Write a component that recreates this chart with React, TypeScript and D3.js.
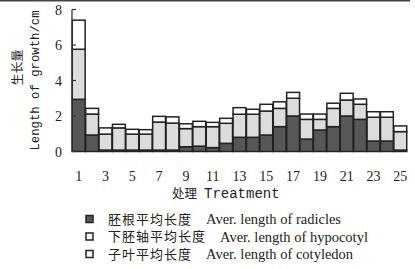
import React from "react";
import * as d3 from "d3";

// treatments 1..25
const treatments = d3.range(1, 26).map(String);
const xTickLabels = ["1", "3", "5", "7", "9", "11", "13", "15", "17", "19", "21", "23", "25"];
const yTicks = [0, 2, 4, 6, 8];

// average lengths (cm)
const radicle = [2.94, 0.93, 0.08, 0.08, 0.08, 0.08, 0.08, 0.08, 0.27, 0.3, 0.22, 0.46, 0.8, 0.8, 0.93, 1.4, 2.0, 0.7, 1.21, 1.4, 2.0, 1.81, 0.59, 0.59, 0.08];
const hypocotyl = [2.82, 1.18, 0.9, 1.25, 0.9, 0.9, 1.58, 1.52, 1.02, 1.1, 1.18, 1.13, 1.3, 1.3, 1.35, 1.03, 1.0, 1.11, 0.6, 1.03, 0.9, 0.85, 1.34, 1.34, 1.04];
const cotyledon = [1.64, 0.32, 0.35, 0.2, 0.27, 0.25, 0.32, 0.35, 0.27, 0.3, 0.24, 0.28, 0.37, 0.28, 0.38, 0.37, 0.33, 0.3, 0.3, 0.29, 0.38, 0.3, 0.31, 0.31, 0.32];

const seriesKeys = ["radicle", "hypocotyl", "cotyledon"];
const fills = { radicle: "#575757", hypocotyl: "#dcdcdc", cotyledon: "#ffffff" };
const legendCn = ["胚根平均长度", "下胚轴平均长度", "子叶平均长度"];
const legendEn = ["Aver. length of radicles", "Aver. length of hypocotyl", "Aver. length of cotyledon"];

const W = 415, H = 269;
const margin = { left: 72, right: 8, top: 9.5, bottom: 117.5 };

export default function App() {
  const rows = treatments.map((t, i) => ({
    t,
    radicle: radicle[i],
    hypocotyl: hypocotyl[i],
    cotyledon: cotyledon[i],
  }));
  const stacked = d3.stack().keys(seriesKeys)(rows as any);

  const x = d3.scaleBand().domain(treatments).range([margin.left, W - margin.right]).paddingInner(0.04).paddingOuter(0.02);
  const y = d3.scaleLinear().domain([0, 8]).range([H - margin.bottom, margin.top]);

  const serif = "'Liberation Serif', 'DejaVu Serif', serif";
  const mono = "'Liberation Mono', 'DejaVu Sans Mono', monospace";
  const cjk = "'Noto Sans CJK SC', sans-serif";

  return (
    <svg width={W} height={H} style={{ position: "absolute", left: 0, top: 0, background: "#fff" }}>
      <line x1={0} x2={410} y1={0.8} y2={0.8} stroke="#444" strokeWidth={1.6} />

      {/* bars */}
      {stacked.map((s: any) => (
        <g key={s.key} fill={(fills as any)[s.key]} stroke="#222" strokeWidth={1.5}>
          {s.map((d: any, i: number) => (
            <rect
              key={i}
              x={x(treatments[i])}
              y={y(d[1])}
              width={x.bandwidth()}
              height={Math.max(0, y(d[0]) - y(d[1]))}
            />
          ))}
        </g>
      ))}

      {/* y axis */}
      <line x1={margin.left} x2={margin.left} y1={y(8)} y2={y(0)} stroke="#333" strokeWidth={1.3} />
      {yTicks.map((v) => (
        <g key={v}>
          <line x1={margin.left} x2={margin.left + 4} y1={y(v)} y2={y(v)} stroke="#333" strokeWidth={1.2} />
          <text x={62} y={y(v)} dy="0.36em" textAnchor="end" fontFamily={serif} fontSize={14} fill="#222">{v}</text>
        </g>
      ))}
      <text transform={`translate(22,${y(4) - 13}) rotate(-90)`} textAnchor="middle" fontFamily={cjk} fontSize={12} fill="#222">生长量</text>
      <text transform={`translate(39,${y(4)}) rotate(-90)`} textAnchor="middle" fontFamily={mono} fontSize={12.3} fill="#222">Length of growth/cm</text>

      {/* x tick labels */}
      {xTickLabels.map((t) => (
        <text key={t} x={(x(t) as number) + x.bandwidth() / 2} y={181} textAnchor="middle" fontFamily={serif} fontSize={14} fill="#222">{t}</text>
      ))}
      <text x={172} y={198} fontFamily={cjk} fontSize={12.5} fill="#222">处理</text>
      <text x={204} y={198} fontFamily={mono} fontSize={14} fill="#222">Treatment</text>

      {/* legend */}
      {seriesKeys.map((k, i) => (
        <g key={k} transform={`translate(86,${219 + i * 17.5})`}>
          <rect x={0} y={-3.5} width={7} height={7} fill={k === "radicle" ? "#575757" : "#fff"} stroke="#222" strokeWidth={1.5} />
          <text x={22} y={0} dy="0.36em" fontFamily={cjk} fontSize={13} letterSpacing={1} fill="#222">{legendCn[i]}</text>
          <text x={i === 1 ? 134 : 120} y={0} dy="0.36em" fontFamily={serif} fontSize={14.5} fill="#222">{legendEn[i]}</text>
        </g>
      ))}
    </svg>
  );
}
